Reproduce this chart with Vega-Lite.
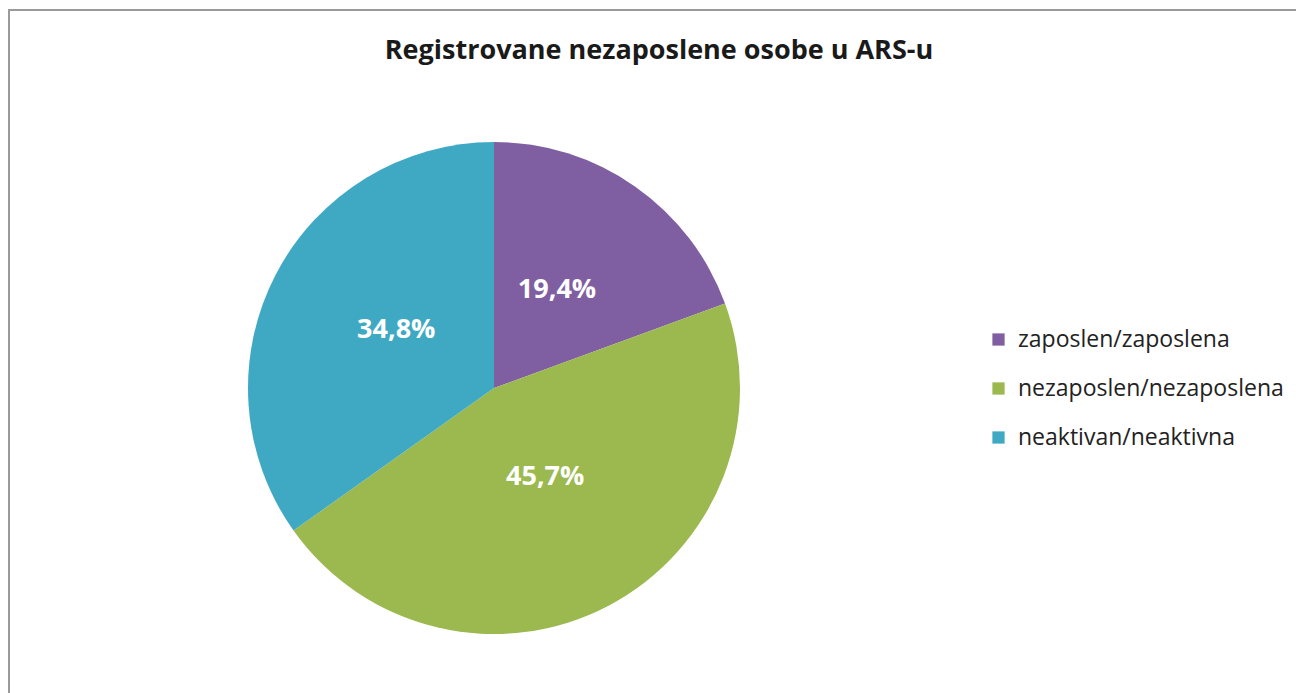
{
  "$schema": "https://vega.github.io/schema/vega-lite/v6.json",
  "autosize": "none",
  "padding": {"left": 9, "top": 10, "right": 0, "bottom": 0},
  "width": 1300,
  "height": 700,
  "background": "white",
  "view": {"stroke": "#9a9a9a", "strokeWidth": 2, "fill": "white"},
  "config": {
    "view": {"stroke": "#9a9a9a", "strokeWidth": 2},
    "font": "Open Sans"
  },
  "title": {
    "text": "Registrovane nezaposlene osobe u ARS-u",
    "font": "Open Sans",
    "fontSize": 27,
    "fontWeight": "bold",
    "color": "#1a1a1a",
    "anchor": "middle",
    "frame": "group",
    "baseline": "middle",
    "offset": -68
  },
  "data": {
    "values": [
      {"kategorija": "zaposlen/zaposlena", "udio": 19.4, "label": "19,4%", "red": 1},
      {"kategorija": "nezaposlen/nezaposlena", "udio": 45.7, "label": "45,7%", "red": 2},
      {"kategorija": "neaktivan/neaktivna", "udio": 34.8, "label": "34,8%", "red": 3}
    ]
  },
  "encoding": {
    "theta": {"field": "udio", "type": "quantitative", "stack": true},
    "order": {"field": "red", "type": "quantitative"},
    "color": {
      "field": "kategorija",
      "type": "nominal",
      "sort": ["zaposlen/zaposlena", "nezaposlen/nezaposlena", "neaktivan/neaktivna"],
      "scale": {
        "domain": ["zaposlen/zaposlena", "nezaposlen/nezaposlena", "neaktivan/neaktivna"],
        "range": ["#7F5FA1", "#9BB94F", "#3FA9C4"]
      },
      "legend": {
        "title": null,
        "orient": "none",
        "legendX": 978,
        "legendY": 318,
        "symbolType": "square",
        "symbolSize": 150,
        "symbolStrokeWidth": 0,
        "labelFontSize": 23,
        "labelFont": "Open Sans",
        "labelColor": "#222222",
        "labelOffset": 8,
        "labelLimit": 500,
        "rowPadding": 25
      }
    }
  },
  "layer": [
    {
      "mark": {"type": "arc", "outerRadius": 246, "x": 485, "y": 378}
    },
    {
      "mark": {
        "type": "text",
        "radius": 110,
        "x": 485,
        "y": 378,
        "dy": -8,
        "font": "Open Sans",
        "fontSize": 27,
        "fontWeight": "bold"
      },
      "encoding": {
        "text": {"field": "label", "type": "nominal"},
        "color": {"value": "white"}
      }
    }
  ]
}
